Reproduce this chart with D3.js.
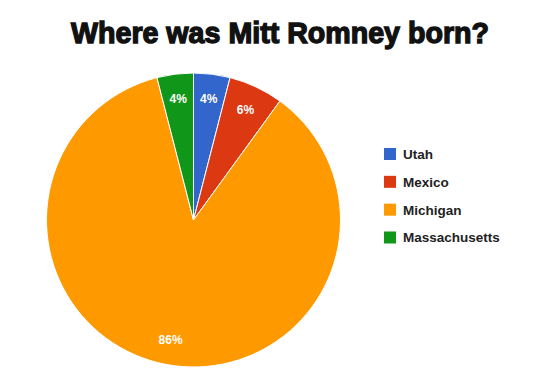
<!DOCTYPE html>
<html>
<head>
  <meta charset="utf-8">
  <title>Where was Mitt Romney born?</title>
  <style>
    body { margin: 0; background: #fff; }
    text { font-family: "Liberation Sans", Arial, sans-serif; }
  </style>
  <script src="https://d3js.org/d3.v7.min.js"></script>
</head>
<body>
  <svg id="chart" width="560" height="373"></svg>

  <script>
    // data
    const places = ['Utah', 'Mexico', 'Michigan', 'Massachusetts'];
    const shares = [4, 6, 86, 4];
    const colors = ['#3366cc', '#dc3912', '#ff9900', '#109618'];

    const svg = d3.select('#chart');
    const cx = 193.5, cy = 220, r = 147;

    svg.append('text')
      .attr('x', 280).attr('y', 43)
      .attr('text-anchor', 'middle')
      .attr('font-size', 30)
      .attr('font-weight', 'bold')
      .attr('fill', '#111').attr('stroke', '#111').attr('stroke-width', 1.4)
      .attr('textLength', 418).attr('lengthAdjust', 'spacingAndGlyphs')
      .text('Where was Mitt Romney born?');

    const color = d3.scaleOrdinal().domain(places).range(colors);
    const pie = d3.pie().sort(null).value(d => d.v);
    const arcs = pie(places.map((p, i) => ({ p, v: shares[i] })));
    const arc = d3.arc().innerRadius(0).outerRadius(r);
    const labelArc = d3.arc().innerRadius(r * 0.83).outerRadius(r * 0.83);

    const g = svg.append('g').attr('transform', `translate(${cx},${cy})`);

    g.selectAll('path')
      .data(arcs)
      .enter().append('path')
      .attr('d', arc)
      .attr('fill', d => color(d.data.p))
      .attr('stroke', '#fff')
      .attr('stroke-width', 1);

    g.selectAll('text.pct')
      .data(arcs)
      .enter().append('text')
      .attr('class', 'pct')
      .attr('transform', d => {
        const [x, y] = labelArc.centroid(d);
        return `translate(${x},${y})`;
      })
      .attr('text-anchor', 'middle')
      .attr('dy', '0.35em')
      .attr('font-size', 12)
      .attr('font-weight', 'bold')
      .attr('fill', '#fff')
      .text(d => d.data.v + '%');

    // legend
    const ly = d3.scalePoint().domain(places).range([154, 237.5]);
    const leg = svg.append('g');
    const item = leg.selectAll('g')
      .data(places)
      .enter().append('g')
      .attr('transform', d => `translate(384,${ly(d)})`);
    item.append('rect')
      .attr('x', 0).attr('y', -6)
      .attr('width', 12).attr('height', 12)
      .attr('fill', d => color(d));
    item.append('text')
      .attr('x', 19).attr('dy', '0.36em')
      .attr('font-size', 13.5)
      .attr('font-weight', 'bold')
      .attr('fill', '#222')
      .text(d => d);
  </script>
</body>
</html>
